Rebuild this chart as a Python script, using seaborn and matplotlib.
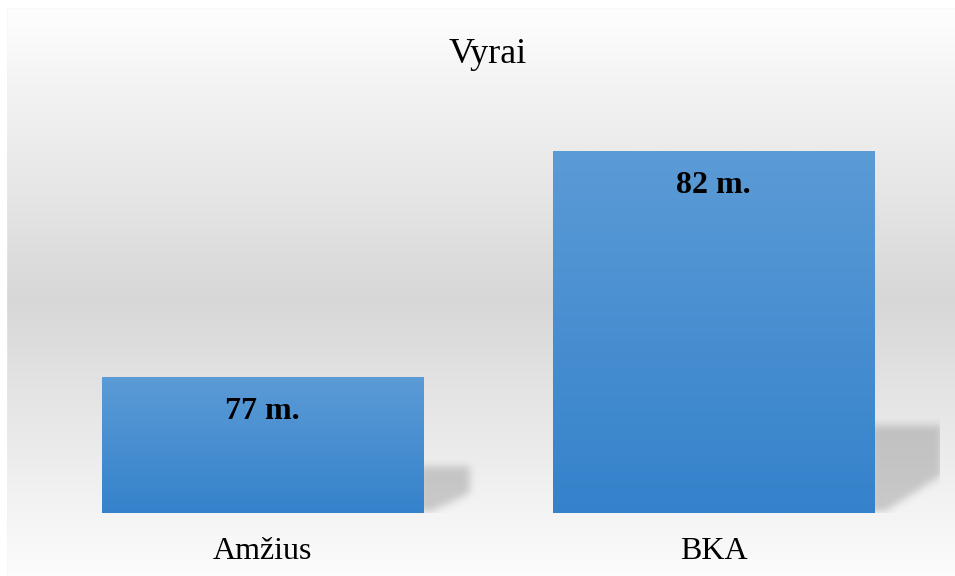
import numpy as np
import pandas as pd
import matplotlib
matplotlib.use("Agg")
import matplotlib.pyplot as plt
from matplotlib.path import Path
from matplotlib.patches import Rectangle
import seaborn as sns

# ---- data ----
categories = ["Amžius", "BKA"]
values = [77, 82]
value_labels = ["77 m.", "82 m."]
title = "Vyrai"
y_min, y_max = 74, 83

sns.set_theme(style="white")
plt.rcParams["font.family"] = ["Liberation Serif", "DejaVu Serif"]

W, H, DPI = 955, 576, 100
fig = plt.figure(figsize=(W / DPI, H / DPI), dpi=DPI)

# background gradient (figure level)
bg = fig.add_axes([0, 0, 1, 1], zorder=-10)
yy = np.arange(H)
g = np.interp(yy, [0, 8, 300, 576], [1.0, 0.995, 0.845, 0.99])
img = np.repeat(g[:, None], 4, axis=1)
bg.imshow(np.dstack([img, img, img]), extent=[0, W, H, 0], aspect="auto")
bg.add_patch(Rectangle((6, 7), W, H, fill=False, ec="#d6d6d6", lw=1.6))
bg.fill_between([0, 6], 0, H, color="white")
bg.fill_between([0, W], 0, 7, color="white")
bg.set_xlim(0, W)
bg.set_ylim(H, 0)
bg.axis("off")

ax = fig.add_axes([37 / W, 63 / H, 902 / W, 407 / H])
ax.set_facecolor("none")
df = pd.DataFrame({"cat": categories, "val": values})
sns.barplot(data=df, x="cat", y="val", ax=ax, width=0.712, color="#4a90d2",
            saturation=1, zorder=3)
ax.set_ylim(y_min, y_max)
ax.set_xlim(-0.5, 1.5)
for s in ax.spines.values():
    s.set_visible(False)
ax.set_yticks([])
ax.set_xlabel("")
ax.set_ylabel("")
ax.tick_params(axis="x", length=0, pad=17, labelsize=23, labelcolor="black")

fig.canvas.draw()
px_x = ax.transData.transform((1, 0))[0] - ax.transData.transform((0, 0))[0]
px_y = ax.transData.transform((0, 1))[1] - ax.transData.transform((0, 0))[1]

top_c = np.array([91, 155, 214]) / 255
bot_c = np.array([53, 130, 203]) / 255

for p, lab in zip(ax.patches, value_labels):
    x0 = p.get_x()
    w = p.get_width()
    top = p.get_y() + p.get_height()
    base = y_min
    h = top - base
    # gradient fill
    p.set_facecolor("none")
    p.set_edgecolor("none")
    t = np.linspace(0, 1, 256)[:, None]
    grad = top_c[None, :] * (1 - t) + bot_c[None, :] * t
    grad = np.repeat(grad[:, None, :], 2, axis=1)
    im = ax.imshow(grad, extent=[x0, x0 + w, base, top], aspect="auto",
                   zorder=3, interpolation="bilinear")
    im.set_clip_path(p)
    # soft perspective shadow
    xr = x0 + w
    sh = 0.18 * h + 0.5
    sw = 0.009 * h + 0.077
    poly = [(xr - 0.01, base), (xr - 0.01, base + sh), (xr + sw, base + sh),
            (xr + sw, base + 0.43 * sh), (xr + 0.12 * sw, base)]
    mx, my = 0.03, 0.3
    ex = [xr - mx, xr + sw + mx, base, base + sh + my]
    nx = int((ex[1] - ex[0]) * px_x)
    ny = int((ex[3] - ex[2]) * px_y)
    gx = np.linspace(ex[0], ex[1], nx)
    gy = np.linspace(ex[3], ex[2], ny)
    GX, GY = np.meshgrid(gx, gy)
    mask = Path(poly).contains_points(np.c_[GX.ravel(), GY.ravel()]).reshape(ny, nx).astype(float)
    k = np.ones(9) / 9
    for _ in range(2):
        mask = np.apply_along_axis(lambda r: np.convolve(r, k, mode="same"), 1, mask)
        mask = np.apply_along_axis(lambda c: np.convolve(c, k, mode="same"), 0, mask)
    rgba = np.zeros((ny, nx, 4))
    rgba[..., :3] = 0.45
    rgba[..., 3] = mask * 0.33
    ax.imshow(rgba, extent=ex, aspect="auto", zorder=2, interpolation="bilinear")
    ax.annotate(lab, xy=(x0 + w / 2, top), xytext=(0, -14.5), textcoords="offset points",
                ha="center", va="top", fontsize=23, fontweight="bold", color="black",
                zorder=5)

ax.set_ylim(y_min, y_max)
ax.set_xlim(-0.5, 1.5)

fig.text(488 / W, 1 - 63 / H, title, ha="center", va="baseline", fontsize=26,
         color="black")

fig.savefig("out.png", dpi=DPI)
